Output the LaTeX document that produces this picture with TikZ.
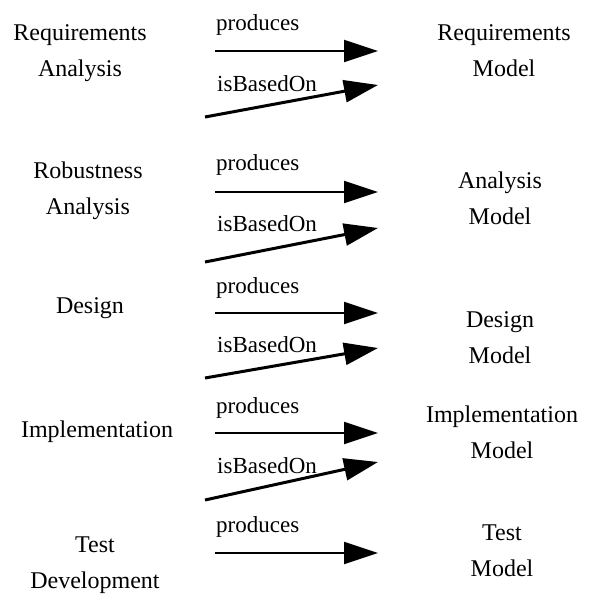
\documentclass[tikz,border=0pt]{standalone}
\usepackage{fontspec}
\setmainfont{Liberation Serif}
\usetikzlibrary{arrows.meta}
\begin{document}
\begin{tikzpicture}[x=1pt,y=-1pt,
  lbl/.style={font=\fontsize{24}{36}\selectfont, align=center, inner sep=0pt},
  rel/.style={font=\fontsize{23}{28}\selectfont, anchor=base west, inner sep=0pt},
  flow/.style={line width=2.2pt, -{Triangle[length=34pt,width=22pt]}},
  basedon/.style={line width=3pt, -{Triangle[length=34pt,width=22pt]}}]
\useasboundingbox (0,0) rectangle (602,597);
% left column
\node[lbl] (ra) at (80,53) {Requirements\\Analysis};
\node[lbl] (rb) at (88,191) {Robustness\\Analysis};
\node[lbl] (de) at (90,308) {Design};
\node[lbl] (im) at (97,432) {Implementation};
\node[lbl] (td) at (95,565) {Test\\Development};
% right column
\node[lbl] (rm) at (504,51) {Requirements\\Model};
\node[lbl] (am) at (500,198) {Analysis\\Model};
\node[lbl] (dm) at (500,338) {Design\\Model};
\node[lbl] (imm) at (502,432) {Implementation\\Model};
\node[lbl] (tm) at (502,551) {Test\\Model};
% relation labels
\node[rel] (p1) at (216,30) {produces};
\node[rel] (b1) at (217,91) {isBasedOn};
\node[rel] (p2) at (216,170) {produces};
\node[rel] (b2) at (217,231) {isBasedOn};
\node[rel] (p3) at (216,293) {produces};
\node[rel] (b3) at (217,352) {isBasedOn};
\node[rel] (p4) at (216,413) {produces};
\node[rel] (b4) at (217,473) {isBasedOn};
\node[rel] (p5) at (216,532) {produces};
% arrow end points
\coordinate (ps1) at (215,51);  \coordinate (pe1) at (378,51);
\coordinate (bs1) at (205,117); \coordinate (be1) at (378,85);
\coordinate (ps2) at (215,192); \coordinate (pe2) at (378,192);
\coordinate (bs2) at (205,262); \coordinate (be2) at (378,228);
\coordinate (ps3) at (215,313); \coordinate (pe3) at (378,313);
\coordinate (bs3) at (205,378); \coordinate (be3) at (378,348);
\coordinate (ps4) at (215,433); \coordinate (pe4) at (378,433);
\coordinate (bs4) at (205,500); \coordinate (be4) at (378,462);
\coordinate (ps5) at (215,553); \coordinate (pe5) at (378,553);
\draw[flow] (ps1) -- (pe1);
\draw[basedon] (bs1) -- (be1);
\draw[flow] (ps2) -- (pe2);
\draw[basedon] (bs2) -- (be2);
\draw[flow] (ps3) -- (pe3);
\draw[basedon] (bs3) -- (be3);
\draw[flow] (ps4) -- (pe4);
\draw[basedon] (bs4) -- (be4);
\draw[flow] (ps5) -- (pe5);
\end{tikzpicture}
\end{document}
